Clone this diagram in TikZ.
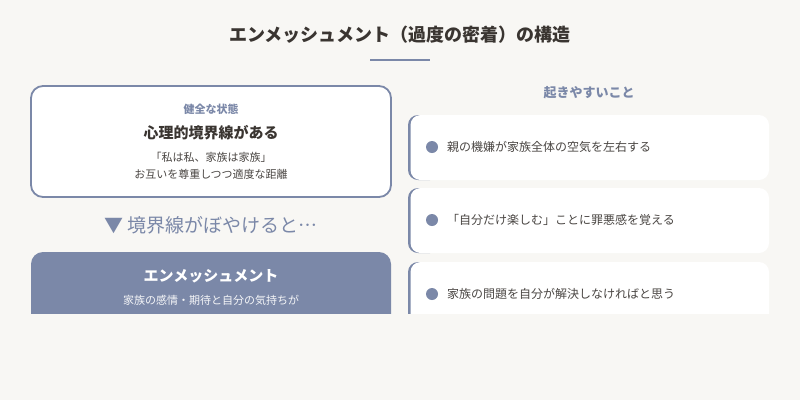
\documentclass[tikz,border=0pt]{standalone}
\usepackage{fontspec}
\setmainfont{Noto Sans CJK JP}
\newfontfamily\jpfw{Noto Sans CJK JP}[Script=CJK, Language=Japanese, RawFeature=+fwid]
\definecolor{bgc}{HTML}{F8F7F4}
\definecolor{accent}{HTML}{7B88A8}
\definecolor{darktxt}{HTML}{3A3531}
\definecolor{bodytxt}{HTML}{4A4643}
\tikzset{
  txt/.style={inner sep=0pt, anchor=center},
  card/.style={fill=white, rounded corners=10pt},
  dot/.style={circle, fill=accent, minimum size=12pt, inner sep=0pt},
  itemtxt/.style={inner sep=0pt, anchor=west, text=bodytxt, font=\fontsize{12}{14}\selectfont}
}
\begin{document}
\begin{tikzpicture}[x=1pt,y=-1pt]
\useasboundingbox (0,0) rectangle (800,400);
\fill[bgc] (0,0) rectangle (800,400);
\node[txt, text=darktxt, font=\fontsize{18}{20}\selectfont\bfseries] (title) at (400,35) {エンメッシュメント（過度の密着）の構造};
\coordinate (ulA) at (370,60);
\coordinate (ulB) at (430,60);
\draw[accent, line width=2pt] (ulA) -- (ulB);
\begin{scope}
\clip (0,0) rectangle (800,313);
% left healthy box
\draw[accent, line width=1.8pt, fill=white, rounded corners=12pt] (31,86) rectangle (391,197);
\node[txt, text=accent, font=\fontsize{11}{13}\selectfont\bfseries] (state) at (211,109) {健全な状態};
\node[txt, text=darktxt, font=\fontsize{15}{17}\selectfont\bfseries] (healthy) at (211,133) {心理的境界線がある};
\node[txt, text=bodytxt, font=\fontsize{11}{13}\selectfont] (h1) at (211,157) {「私は私、家族は家族」};
\node[txt, text=bodytxt, font=\fontsize{11}{13}\selectfont] (h2) at (211,174) {お互いを尊重しつつ適度な距離};
\node[txt, text=accent, font=\fontsize{19}{21}\selectfont] (blur) at (211,225) {▼ 境界線がぼやけると{\jpfw …}};
% enmeshment box
\fill[accent, rounded corners=12pt] (31,252) rectangle (391,340);
\node[txt, text=white, font=\fontsize{15}{17}\selectfont\bfseries] (enm) at (211,276) {エンメッシュメント};
\node[txt, text=white!92!accent, font=\fontsize{11}{13}\selectfont] (e1) at (211,300) {家族の感情・期待と自分の気持ちが};
% right column
\node[txt, text=accent, font=\fontsize{13}{15}\selectfont\bfseries] (occ) at (589,93) {起きやすいこと};
\foreach \ya/\yb in {115/180, 188/253, 262/330}{
  \begin{scope}
    \clip (400,\ya-2) rectangle (430,\yb+2);
    \fill[accent, rounded corners=10pt] (408,\ya) rectangle (769,\yb);
  \end{scope}
  \fill[card] (410.5,\ya) rectangle (769,\yb);
}
\node[dot] (d1) at (432,147) {};
\node[itemtxt] (t1) at (447,147) {親の機嫌が家族全体の空気を左右する};
\node[dot] (d2) at (432,220) {};
\node[itemtxt] (t2) at (447,220) {「自分だけ楽しむ」ことに罪悪感を覚える};
\node[dot] (d3) at (432,294) {};
\node[itemtxt] (t3) at (447,294) {家族の問題を自分が解決しなければと思う};
\end{scope}
\end{tikzpicture}
\end{document}
